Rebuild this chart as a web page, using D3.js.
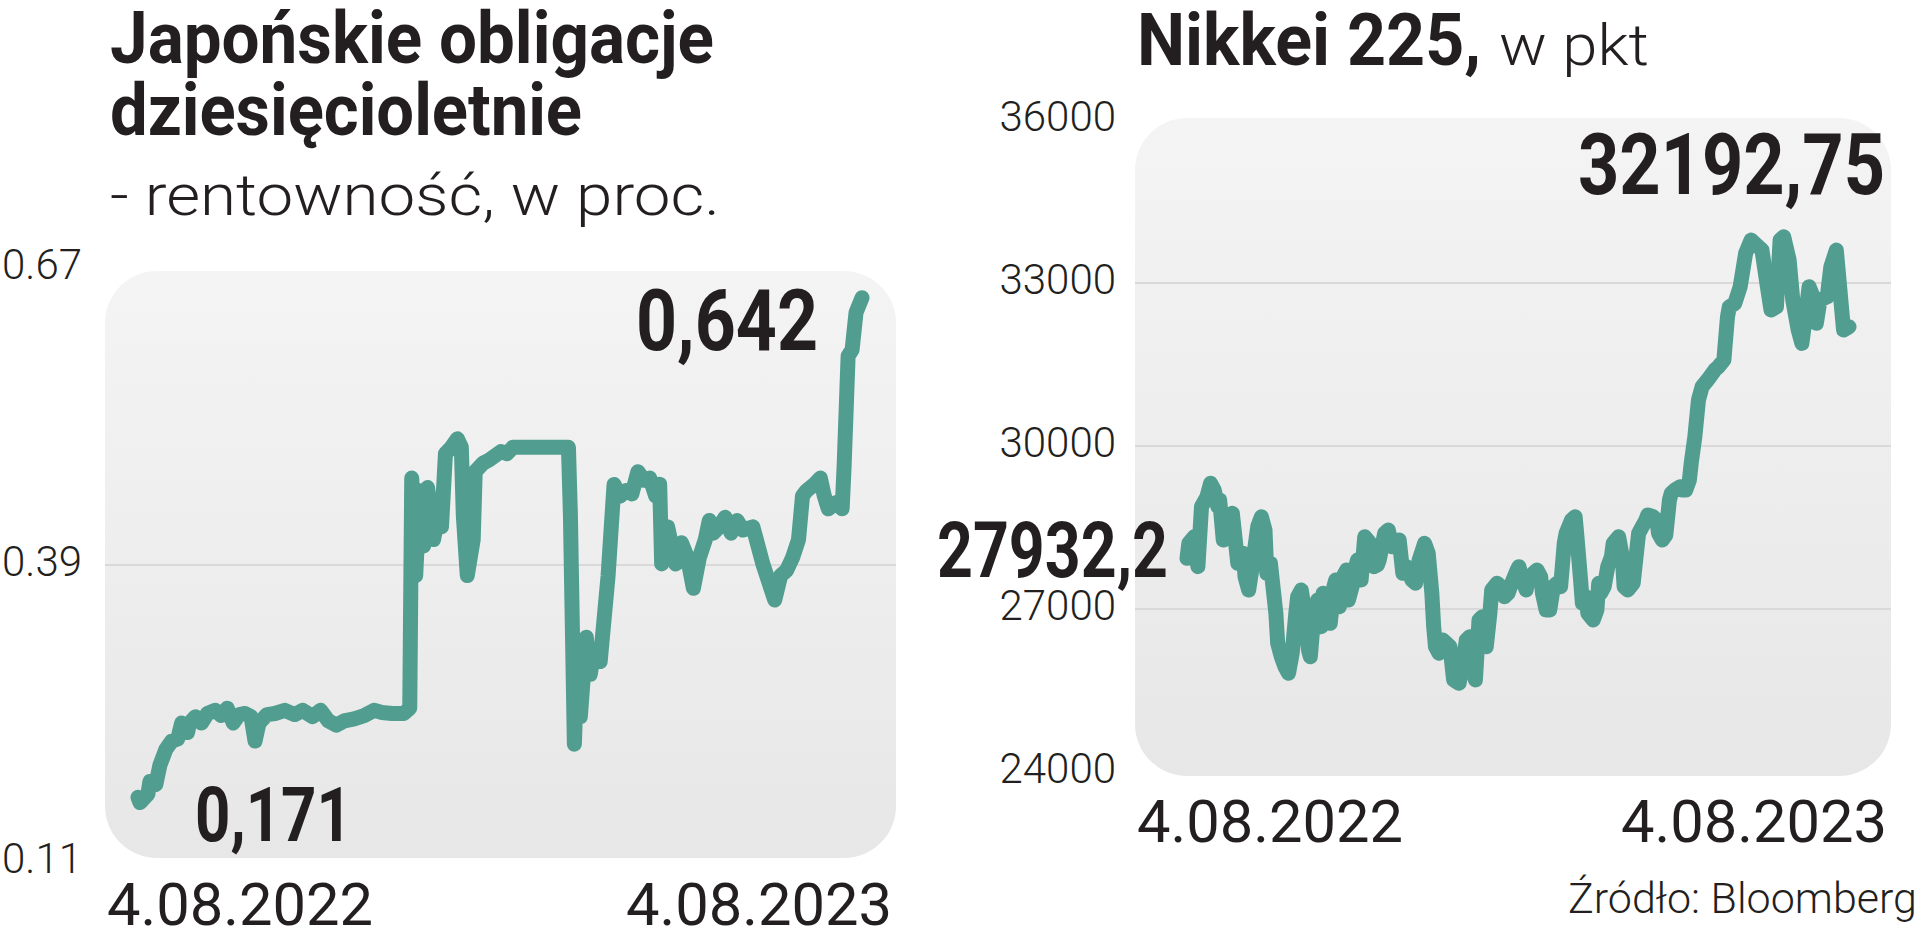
<!DOCTYPE html>
<html>
<head>
<meta charset="utf-8">
<script src="https://cdn.jsdelivr.net/npm/d3@7"></script>
<style>
  html, body { margin: 0; padding: 0; background: #fff; }
  svg { display: block; }
</style>
</head>
<body>
<svg id="chart" width="1920" height="937"></svg>
<script>
"use strict";

// Japanese 10Y government bond yield, %
const bondDates = [
  "2022-08-04","2022-08-05","2022-08-09","2022-08-10","2022-08-13","2022-08-15","2022-08-18","2022-08-21",
  "2022-08-24","2022-08-26","2022-08-29","2022-08-30","2022-09-02","2022-09-05","2022-09-08","2022-09-12",
  "2022-09-15","2022-09-18","2022-09-21","2022-09-24","2022-09-27","2022-09-30","2022-10-02","2022-10-04",
  "2022-10-08","2022-10-12","2022-10-17","2022-10-22","2022-10-26","2022-10-31","2022-11-04","2022-11-08",
  "2022-11-12","2022-11-16","2022-11-21","2022-11-26","2022-12-01","2022-12-05","2022-12-10","2022-12-16",
  "2022-12-19","2022-12-20","2022-12-22","2022-12-24","2022-12-26","2022-12-28","2022-12-31","2023-01-03",
  "2023-01-04","2023-01-06","2023-01-09","2023-01-12","2023-01-14","2023-01-15","2023-01-17","2023-01-20",
  "2023-01-21","2023-01-25","2023-01-28","2023-01-31","2023-02-03","2023-02-06","2023-02-09","2023-02-21",
  "2023-03-09","2023-03-10","2023-03-12","2023-03-13","2023-03-15","2023-03-18","2023-03-20","2023-03-22",
  "2023-03-25","2023-03-29","2023-04-01","2023-04-04","2023-04-07","2023-04-10","2023-04-13","2023-04-16",
  "2023-04-19","2023-04-22","2023-04-24","2023-04-25","2023-04-28","2023-05-02","2023-05-05","2023-05-08",
  "2023-05-11","2023-05-14","2023-05-17","2023-05-19","2023-05-21","2023-05-24","2023-05-27","2023-05-30",
  "2023-06-02","2023-06-05","2023-06-10","2023-06-15","2023-06-18","2023-06-21","2023-06-24","2023-06-27",
  "2023-06-30","2023-07-03","2023-07-05","2023-07-07","2023-07-11","2023-07-14","2023-07-16","2023-07-18",
  "2023-07-22","2023-07-25","2023-07-26","2023-07-28","2023-07-30","2023-08-01","2023-08-04"
];
const bondYields = [
  0.171,0.166,0.174,0.186,0.183,0.201,0.216,0.224,
  0.226,0.241,0.232,0.241,0.247,0.241,0.250,0.253,
  0.248,0.255,0.241,0.249,0.250,0.247,0.224,0.241,
  0.249,0.250,0.253,0.249,0.253,0.247,0.253,0.243,
  0.239,0.243,0.245,0.248,0.253,0.251,0.250,0.250,
  0.255,0.472,0.380,0.460,0.408,0.463,0.414,0.443,
  0.426,0.495,0.501,0.509,0.501,0.437,0.380,0.414,
  0.478,0.486,0.489,0.493,0.497,0.495,0.501,0.501,
  0.501,0.437,0.221,0.276,0.247,0.322,0.287,0.310,
  0.299,0.380,0.466,0.455,0.460,0.457,0.478,0.470,
  0.472,0.455,0.466,0.391,0.426,0.391,0.411,0.397,
  0.368,0.397,0.414,0.432,0.420,0.426,0.435,0.420,
  0.432,0.423,0.426,0.391,0.374,0.357,0.380,0.385,
  0.397,0.414,0.455,0.460,0.466,0.472,0.455,0.443,
  0.449,0.443,0.484,0.587,0.593,0.628,0.642
];
const bondTicks = [0.11, 0.39, 0.67];

// Nikkei 225, points
const nikkeiDates = [
  "2022-08-04","2022-08-05","2022-08-08","2022-08-10","2022-08-12","2022-08-15","2022-08-17","2022-08-19",
  "2022-08-21","2022-08-22","2022-08-24","2022-08-26","2022-08-29","2022-08-31","2022-09-01","2022-09-04",
  "2022-09-05","2022-09-07","2022-09-09","2022-09-12","2022-09-14","2022-09-16","2022-09-17","2022-09-19",
  "2022-09-20","2022-09-22","2022-09-23","2022-09-25","2022-09-27","2022-09-29","2022-10-01","2022-10-03",
  "2022-10-04","2022-10-06","2022-10-08","2022-10-10","2022-10-11","2022-10-13","2022-10-15","2022-10-17",
  "2022-10-18","2022-10-20","2022-10-22","2022-10-24","2022-10-25","2022-10-27","2022-10-29","2022-10-31",
  "2022-11-01","2022-11-03","2022-11-05","2022-11-06","2022-11-08","2022-11-10","2022-11-13","2022-11-15",
  "2022-11-17","2022-11-18","2022-11-21","2022-11-23","2022-11-25","2022-11-28","2022-11-29","2022-12-01",
  "2022-12-03","2022-12-06","2022-12-08","2022-12-10","2022-12-13","2022-12-15","2022-12-17","2022-12-18",
  "2022-12-19","2022-12-21","2022-12-23","2022-12-25","2022-12-27","2022-12-29","2023-01-01","2023-01-03",
  "2023-01-05","2023-01-07","2023-01-08","2023-01-10","2023-01-12","2023-01-14","2023-01-16","2023-01-18",
  "2023-01-19","2023-01-22","2023-01-24","2023-01-26","2023-01-28","2023-01-30","2023-02-02","2023-02-03",
  "2023-02-05","2023-02-07","2023-02-08","2023-02-11","2023-02-13","2023-02-15","2023-02-16","2023-02-18",
  "2023-02-20","2023-02-22","2023-02-24","2023-02-26","2023-02-28","2023-03-01","2023-03-04","2023-03-06",
  "2023-03-07","2023-03-09","2023-03-10","2023-03-12","2023-03-13","2023-03-16","2023-03-18","2023-03-19",
  "2023-03-20","2023-03-22","2023-03-24","2023-03-26","2023-03-27","2023-03-30","2023-04-01","2023-04-02",
  "2023-04-04","2023-04-07","2023-04-08","2023-04-10","2023-04-12","2023-04-14","2023-04-15","2023-04-18",
  "2023-04-20","2023-04-21","2023-04-23","2023-04-25","2023-04-27","2023-04-28","2023-04-30","2023-05-03",
  "2023-05-04","2023-05-06","2023-05-08","2023-05-09","2023-05-11","2023-05-13","2023-05-15","2023-05-18",
  "2023-05-22","2023-05-24","2023-05-27","2023-05-29","2023-05-30","2023-06-02","2023-06-05","2023-06-08",
  "2023-06-11","2023-06-15","2023-06-17","2023-06-20","2023-06-22","2023-06-25","2023-06-27","2023-06-29",
  "2023-07-02","2023-07-04","2023-07-07","2023-07-09","2023-07-11","2023-07-13","2023-07-16","2023-07-17",
  "2023-07-19","2023-07-23","2023-07-25","2023-07-28","2023-07-30","2023-08-01","2023-08-04"
];
const nikkeiValues = [
  27932.2,28209,28330,27779,28883,29066,29313,29190,
  28883,29006,28270,28698,28761,28147,27840,28025,
  27594,27350,27779,28515,28698,28454,27656,27840,
  27534,26921,26369,26122,25938,25817,26185,26921,
  27226,27350,26921,26246,26122,26921,27166,26675,
  27288,26921,26736,27410,27534,27042,27594,27718,
  27166,27410,27779,27902,27534,28330,28209,27779,
  27810,27902,28393,28454,28147,28209,28270,27656,
  27779,27534,27473,27902,28209,28025,27288,26675,
  26306,26185,26430,26369,26306,25694,25633,25938,
  26430,26491,26062,25694,26798,26859,26306,26921,
  27350,27473,27410,27226,27288,27473,27718,27779,
  27534,27350,27534,27656,27718,27594,27288,26982,
  26982,27410,27473,27410,28209,28393,28638,28698,
  28330,27534,27105,27226,26921,26798,26982,27473,
  27288,27410,27779,27962,28209,28330,27962,27410,
  27350,27473,27779,28393,28515,28638,28730,28698,
  28638,28393,28270,28362,29006,29129,29190,29250,
  29190,29190,29374,29681,30170,30846,31090,31214,
  31398,31459,31582,32378,32562,32623,32931,33545,
  33790,33667,33606,32931,32502,32562,33790,33851,
  33422,32686,32134,31889,32378,32931,32686,32257,
  32686,32747,33299,33606,32870,32134,32192.75
];
const nikkeiTicks = [24000, 27000, 30000, 33000, 36000];

const periodLabels = ["2022-08-04", "2023-08-04"];
const sourceText = "Źródło: Bloomberg";

const INK = "#231f20";
const LINE = "#519d8f";
const FONT = "Roboto, 'Noto Sans', sans-serif";

const parse = d3.timeParse("%Y-%m-%d");
const fmtDate = d3.timeFormat("%-d.%m.%Y");
const fmtComma = v => String(v).replace(".", ",");

const svg = d3.select("#chart");

let defs = svg.append("defs");
let grad = defs.append("linearGradient")
  .attr("id", "panel_fill")
  .attr("x1", 0).attr("y1", 0).attr("x2", 0).attr("y2", 1);
grad.append("stop").attr("offset", "0%").attr("stop-color", "#f4f4f4");
grad.append("stop").attr("offset", "100%").attr("stop-color", "#e7e7e7");

function text(g, str, x, y, size, weight, width, anchor) {
  let t = g.append("text")
    .attr("x", x)
    .attr("y", y)
    .attr("font-family", FONT)
    .attr("font-size", size)
    .attr("font-weight", weight)
    .attr("fill", INK)
    .attr("text-anchor", anchor || "start")
    .text(str);
  if (width) {
    t.attr("textLength", width).attr("lengthAdjust", "spacingAndGlyphs");
  }
  return t;
}

function draw_panel(cfg) {
  let g = svg.append("g");
  let p = cfg.panel;

  g.append("rect")
    .attr("x", p.x0)
    .attr("y", p.y0)
    .attr("width", p.x1 - p.x0)
    .attr("height", p.y1 - p.y0)
    .attr("rx", 52)
    .attr("fill", "url(#panel_fill)");

  let data = cfg.dates.map((d, i) => ({ date: parse(d), value: cfg.values[i] }));

  let x = d3.scaleTime()
    .domain(periodLabels.map(parse))
    .range(cfg.xRange);
  let y = d3.scaleLinear()
    .domain(d3.extent(cfg.ticks))
    .range(cfg.yRange);

  // grid lines on inner ticks only
  let inner = cfg.ticks.slice(1, -1);
  g.selectAll("line.grid")
    .data(inner)
    .enter().append("line")
    .attr("class", "grid")
    .attr("x1", p.x0)
    .attr("x2", p.x1)
    .attr("y1", d => y(d))
    .attr("y2", d => y(d))
    .attr("stroke", "#d9d9d9")
    .attr("stroke-width", 2);

  let axis = g.append("g")
    .attr("transform", "translate(" + cfg.axisX + ",-3)")
    .call(d3.axisLeft(y).tickValues(cfg.ticks).tickFormat(cfg.tickFormat).tickSize(0).tickPadding(0));
  axis.select(".domain").remove();
  axis.selectAll("text")
    .attr("font-family", FONT)
    .attr("font-size", 42)
    .attr("font-weight", 300)
    .attr("fill", INK);

  g.append("path")
    .datum(data)
    .attr("d", d3.line().x(d => x(d.date)).y(d => y(d.value)))
    .attr("fill", "none")
    .attr("stroke", LINE)
    .attr("stroke-width", 15)
    .attr("stroke-linejoin", "round")
    .attr("stroke-linecap", "round");

  // period labels along the bottom
  let dl = periodLabels.map(parse).map(fmtDate);
  text(g, dl[0], p.x0 + 2, cfg.dateY, 60, 400, 266, "start");
  text(g, dl[1], p.x1 - 4, cfg.dateY, 60, 400, 266, "end");

  // first and last value callouts
  let first = data[0], last = data[data.length - 1];
  let a = cfg.firstLabel, b = cfg.lastLabel;
  text(g, fmtComma(first.value), x(first.date) + a.dx, y(first.value) + a.dy, a.size, 700, a.width, a.anchor);
  text(g, fmtComma(last.value), x(last.date) + b.dx, y(last.value) + b.dy, b.size, 700, b.width, b.anchor);

  return g;
}

// left: bonds
let left = svg.append("g");
text(left, "Japońskie obligacje", 110, 63, 72, 700, 604);
text(left, "dziesięcioletnie", 110, 135, 72, 700, 472);
text(left, "- rentowność, w proc.", 110, 215, 58, 300, 610);

draw_panel({
  panel: { x0: 105, x1: 896, y0: 271, y1: 858 },
  dates: bondDates,
  values: bondYields,
  ticks: bondTicks,
  tickFormat: d3.format(".2f"),
  xRange: [138, 862],
  yRange: [862, 268],
  axisX: 82,
  dateY: 925,
  firstLabel: { dx: 57, dy: 44, size: 76, width: 157, anchor: "start" },
  lastLabel: { dx: -44, dy: 52, size: 86, width: 182, anchor: "end" }
});

// right: Nikkei
let right = svg.append("g");
text(right, "Nikkei 225,", 1137, 65, 72, 700, 344);
text(right, "w pkt", 1499, 65, 58, 300, 150);

draw_panel({
  panel: { x0: 1135, x1: 1891, y0: 118, y1: 776 },
  dates: nikkeiDates,
  values: nikkeiValues,
  ticks: nikkeiTicks,
  tickFormat: d3.format("d"),
  xRange: [1187, 1849],
  yRange: [772, 120],
  axisX: 1116,
  dateY: 842,
  firstLabel: { dx: -19, dy: 19, size: 78, width: 231, anchor: "end" },
  lastLabel: { dx: 36, dy: -133, size: 86, width: 307, anchor: "end" }
});

text(svg, sourceText, 1568, 913, 43, 300, null, "start");
</script>
</body>
</html>
